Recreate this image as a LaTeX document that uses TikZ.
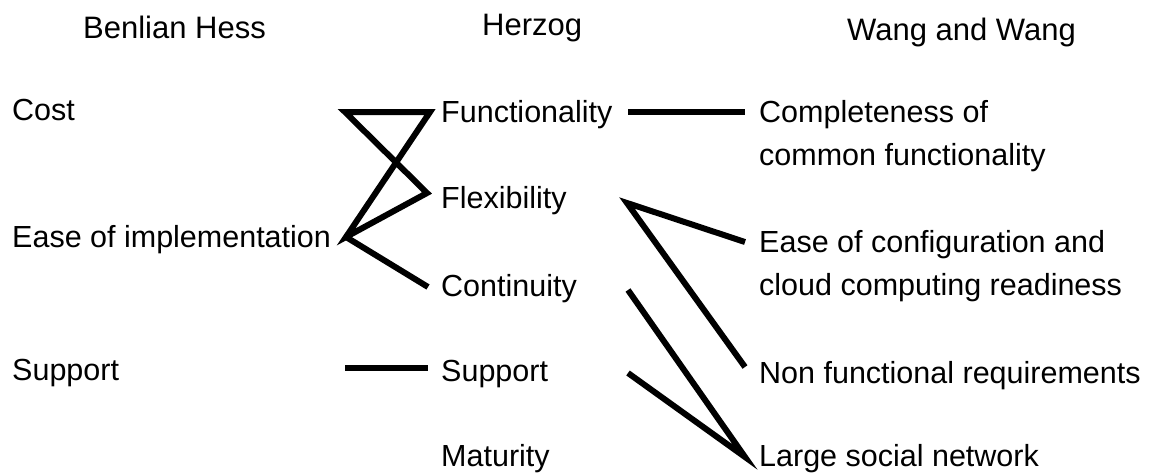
\documentclass[tikz,border=0pt]{standalone}
\usepackage{fontspec}
\setmainfont{Liberation Sans}
\begin{document}
\begin{tikzpicture}[x=1pt,y=-1pt,
  lbl/.style={anchor=base west,inner sep=0pt,font=\fontsize{30.5}{43}\selectfont,align=left},
  hdr/.style={anchor=base west,inner sep=0pt,font=\fontsize{31}{37}\selectfont},
  conn/.style={line width=6pt,line cap=butt,line join=miter}]
\useasboundingbox (0,0) rectangle (1159,474);
% headers
\node[hdr] (h1) at (83,38) {Benlian Hess};
\node[hdr] (h2) at (482,35) {Herzog};
\node[hdr] (h3) at (847,40) {Wang and Wang};
% left column
\node[lbl] (cost) at (12,120) {Cost};
\node[lbl] (ease) at (12,247) {Ease of implementation};
\node[lbl] (sup1) at (12,380) {Support};
% middle column
\node[lbl] (func) at (441,122) {Functionality};
\node[lbl] (flex) at (441,208) {Flexibility};
\node[lbl] (cont) at (441,296) {Continuity};
\node[lbl] (sup2) at (441,381) {Support};
\node[lbl] (mat)  at (441,466) {Maturity};
% right column (base = last line's baseline)
\node[lbl] (comp) at (759,165) {Completeness of\\common functionality};
\node[lbl] (conf) at (759,295) {Ease of configuration and\\cloud computing readiness};
\node[lbl] (nonf) at (759,383) {Non functional requirements};
\node[lbl] (soc)  at (759,466) {Large social network};
% connector end points
\coordinate (costR) at (345,112);
\coordinate (funcL) at (430,112);
\coordinate (flexL) at (427,193);
\coordinate (easeR) at (346,237);
\coordinate (contL) at (428,287);
\coordinate (sup1R) at (345,368);
\coordinate (sup2L) at (428,368);
\coordinate (funcR) at (628,112);
\coordinate (compL) at (745,112);
\coordinate (flexR) at (627,203);
\coordinate (confL) at (745,242);
\coordinate (nonfL) at (745,367);
\coordinate (contR) at (628,290);
\coordinate (sup2R) at (628,373);
\coordinate (socL)  at (745,457);
% connectors
\draw[conn] (costR) -- (funcL) -- (easeR) -- (flexL) -- cycle;
\draw[conn] (easeR) -- (contL);
\draw[conn] (sup1R) -- (sup2L);
\draw[conn] (funcR) -- (compL);
\draw[conn] (confL) -- (flexR) -- (nonfL);
\draw[conn] (contR) -- (socL) -- (sup2R);
\end{tikzpicture}
\end{document}
